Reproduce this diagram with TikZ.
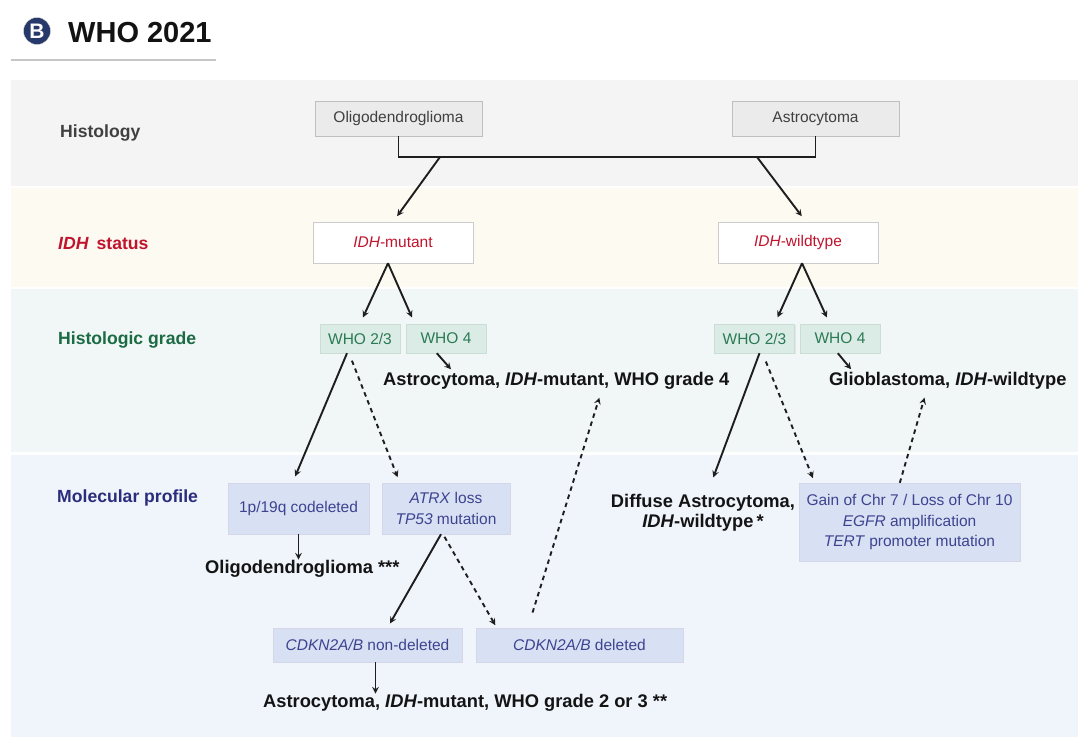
\documentclass[tikz,border=0pt]{standalone}
\usepackage{fontspec}
\setmainfont{Liberation Sans}
\usetikzlibrary{shadows}

\definecolor{badge}{HTML}{27386B}
\definecolor{idhred}{HTML}{C0142E}
\definecolor{gradegreen}{HTML}{1B6B43}
\definecolor{gradetext}{HTML}{2B7A55}
\definecolor{gradefill}{HTML}{DBECE6}
\definecolor{molnavy}{HTML}{2A2D7C}
\definecolor{moltext}{HTML}{3E4390}
\definecolor{molfill}{HTML}{D8E1F3}
\definecolor{linecol}{HTML}{1E1E1E}
\definecolor{bandhist}{HTML}{F4F4F4}
\definecolor{bandidh}{HTML}{FDFAF1}
\definecolor{bandgrade}{HTML}{F1F6F7}
\definecolor{bandmol}{HTML}{F0F4FB}

\begin{document}
\begin{tikzpicture}[x=1pt, y=-1pt,
  boxfont/.style={font=\fontsize{15.5}{20.5}\selectfont},
  histbox/.style={boxfont, draw=black!25, fill=black!8, text=black!75, inner sep=0pt,
    minimum width=167pt, minimum height=35pt, drop shadow={opacity=0.15, shadow xshift=1pt, shadow yshift=-1pt}},
  idhbox/.style={boxfont, draw=black!20, fill=white, text=idhred, inner sep=0pt,
    minimum width=160pt, minimum height=41pt, drop shadow={opacity=0.12, shadow xshift=1pt, shadow yshift=-1pt}},
  gradebox/.style={boxfont, draw=gradetext!25, fill=gradefill, text=gradetext, inner sep=0pt,
    minimum width=80pt, minimum height=29pt, drop shadow={opacity=0.12, shadow xshift=1pt, shadow yshift=-1pt}},
  molbox/.style={boxfont, draw=moltext!22, fill=molfill, text=moltext, inner sep=0pt, align=center,
    drop shadow={opacity=0.12, shadow xshift=1pt, shadow yshift=-1pt}},
  rowlab/.style={font=\bfseries\fontsize{17.6}{20}\selectfont, anchor=base west, inner sep=0pt},
  result/.style={font=\bfseries\fontsize{18.3}{20}\selectfont, inner sep=0pt, text=black!92},
  arr/.style={-stealth, line width=1.9pt, draw=linecol},
  darr/.style={arr, dash pattern=on 4.5pt off 4pt}]
  \useasboundingbox (0,0) rectangle (1078,737);
  \fill[white] (0,0) rectangle (1078,737);

  % Title
  \node[circle, fill=badge, draw=black!15, minimum size=27pt, inner sep=0pt, text=white, font=\bfseries\fontsize{21}{21}\selectfont] (badge) at (37,31) {B};
  \node[anchor=base west, inner sep=0pt, font=\bfseries\fontsize{29}{30}\selectfont, text=black!93] (title) at (68,42) {WHO 2021};
  \draw[line width=1.5pt, black!22] (11,60) -- (216,60); % rule under title

  % Bands
  \fill[bandhist] (11,80) rectangle (1078,186);
  \fill[bandidh] (11,188) rectangle (1078,287);
  \fill[bandgrade] (11,289) rectangle (1078,452);
  \fill[bandmol] (11,455) rectangle (1078,737);

  % Row labels
  \node[rowlab, text=black!75] (lhist) at (60,137) {Histology};
  \node[rowlab, text=idhred] (lidh) at (58,249) {\textit{IDH}\, status};
  \node[rowlab, text=gradegreen] (lgrade) at (58,344) {Histologic grade};
  \node[rowlab, text=molnavy] (lmol) at (57,502) {Molecular profile};

  % Boxes
  \node[histbox] (oligo) at (398.5,118.5) {Oligodendroglioma};
  \node[histbox] (astro) at (815.5,118.5) {Astrocytoma};
  \node[idhbox] (idhmut) at (393,242.5) {\textit{IDH}-mutant};
  \node[idhbox] (idhwt) at (798,242.5) {\textit{IDH}-wildtype};
  \node[gradebox] (who23L) at (360,338.5) {WHO 2/3};
  \node[gradebox] (who4L) at (446,338.5) {WHO 4};
  \node[gradebox] (who23R) at (754.5,338.5) {WHO 2/3};
  \node[gradebox] (who4R) at (840,338.5) {WHO 4};
  \node[molbox, minimum width=141pt, minimum height=51pt] (codel) at (298.5,508.5) {1p/19q codeleted};
  \node[molbox, minimum width=128pt, minimum height=51pt] (atrx) at (446,508.5) {\textit{ATRX} loss\\\textit{TP53} mutation};
  \node[molbox, minimum width=189pt, minimum height=34pt] (nondel) at (367.5,645) {\textit{CDKN2A/B} non-deleted};
  \node[molbox, minimum width=207pt, minimum height=34pt] (del) at (579.5,645) {\textit{CDKN2A/B} deleted};
  \node[molbox, minimum width=221pt, minimum height=78pt] (gain) at (909.5,522) {Gain of Chr 7 / Loss of Chr 10\\\textit{EGFR} amplification\\\textit{TERT} promoter mutation};

  % Diagnoses
  \node[result, anchor=base west] (astro4) at (383,385) {Astrocytoma, \textit{IDH}-mutant, WHO grade 4};
  \node[result, anchor=base west] (glio) at (829,385) {Glioblastoma, \textit{IDH}-wildtype};
  \node[result, anchor=base west] (oligotxt) at (205,573) {Oligodendroglioma ***};
  \node[result, anchor=base west] (astro23) at (263,707) {Astrocytoma, \textit{IDH}-mutant, WHO grade 2 or 3 **};
  \node[result, align=center] (diffuse) at (703,513) {Diffuse Astrocytoma,\\\textit{IDH}-wildtype\,*};

  % Histology to IDH status
  \coordinate (splitL) at (440,157);
  \coordinate (splitR) at (757,157);
  \draw[line width=1.9pt, linecol] (oligo.south) |- (splitL) -| (astro.south);
  \draw[arr, shorten >=7pt] (splitL) -- (idhmut.north);
  \draw[arr, shorten >=7pt] (splitR) -- ([xshift=8pt]idhwt.north);

  % IDH status to grade
  \draw[arr, shorten >=7pt] ([xshift=-5pt]idhmut.south) -- (who23L.north);
  \draw[arr, shorten >=7pt] ([xshift=-5pt]idhmut.south) -- ([xshift=9pt]who4L.north west);
  \draw[arr, shorten >=7pt] ([xshift=4pt]idhwt.south) -- ([xshift=-20pt]who23R.north east);
  \draw[arr, shorten >=7pt] ([xshift=4pt]idhwt.south) -- ([xshift=30pt]who4R.north west);
  \draw[arr, shorten >=3pt] ([xshift=31pt]who4L.south west) -- ([xshift=70pt]astro4.north west);
  \draw[arr, shorten >=3pt] ([xshift=38pt]who4R.south west) -- ([xshift=24pt]glio.north west);

  % IDH-mutant, WHO 2/3
  \draw[arr, shorten >=7pt] ([xshift=-13pt]who23L.south) -- ([xshift=-6pt]codel.north);
  \draw[darr, shorten <=8pt, shorten >=6pt] ([xshift=-11pt]who23L.south) -- ([xshift=18pt]atrx.north west);
  \draw[arr] (codel.south) -- (codel.south |- oligotxt.north);
  \draw[arr, shorten >=5pt] ([xshift=-5pt]atrx.south) -- ([xshift=20pt]nondel.north);
  \draw[darr, shorten <=3pt, shorten >=3pt] ([xshift=-3pt]atrx.south) -- ([xshift=21pt]del.north west);
  \coordinate (nd) at ([xshift=8pt]nondel.south);
  \draw[arr] (nd) -- (nd |- astro23.north);
  \draw[darr, shorten <=16pt, shorten >=9pt] ([xshift=52pt]del.north west) -- ([xshift=219pt]astro4.south west);

  % IDH-wildtype, WHO 2/3
  \draw[arr, shorten >=18pt] ([xshift=5pt]who23R.south) -- ([xshift=4pt]diffuse.north);
  \draw[darr, shorten <=9pt, shorten >=5pt] ([xshift=8pt]who23R.south) -- ([xshift=16pt]gain.north west);
  \draw[darr, shorten >=9pt] ([xshift=101pt]gain.north west) -- ([xshift=98pt]glio.south west);
\end{tikzpicture}
\end{document}
